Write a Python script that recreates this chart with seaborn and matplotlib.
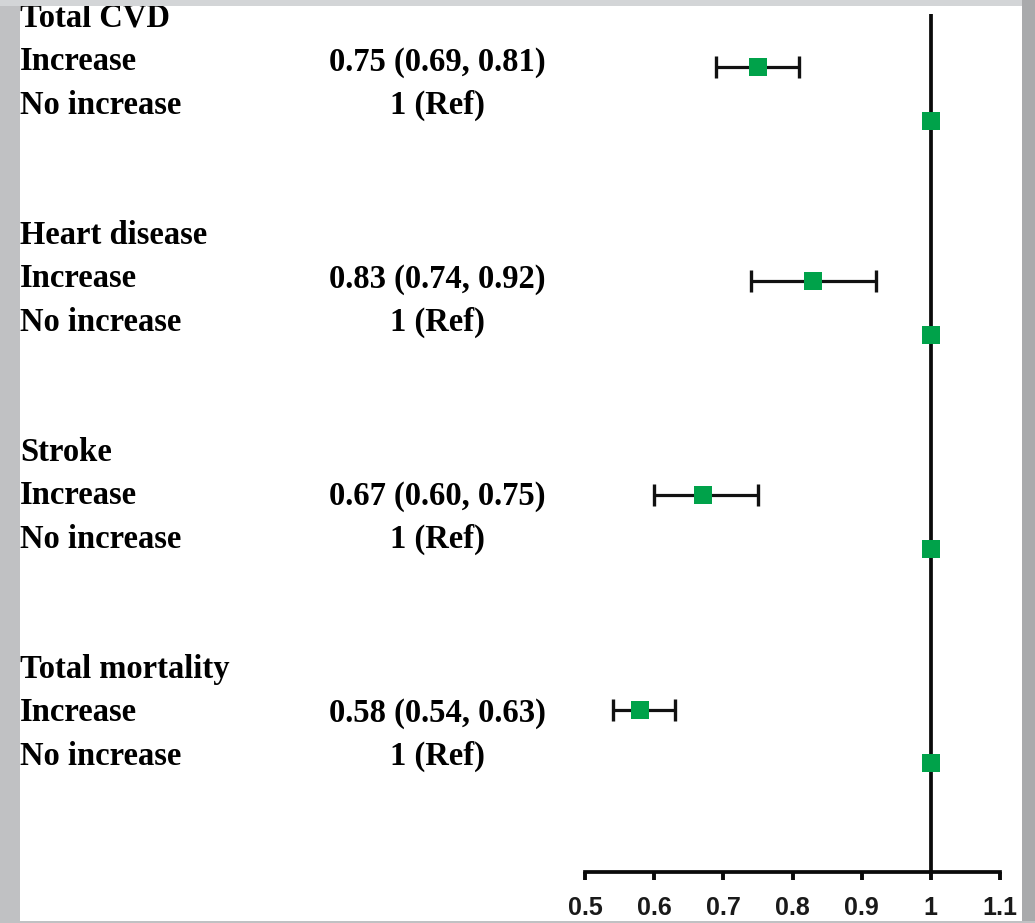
import matplotlib
matplotlib.use("Agg")
import matplotlib.pyplot as plt
import seaborn as sns
import pandas as pd
import numpy as np
from matplotlib.patches import Rectangle

# ---------------- data ----------------
groups = ["Total CVD", "Heart disease", "Stroke", "Total mortality"]
hr_increase = [0.75, 0.83, 0.67, 0.58]
ci_low = [0.69, 0.74, 0.60, 0.54]
ci_high = [0.81, 0.92, 0.75, 0.63]
ref_value = 1.0
row_labels = ["Increase", "No increase"]
ref_label = "1 (Ref)"
xticks = [0.5, 0.6, 0.7, 0.8, 0.9, 1.0, 1.1]
xtick_labels = ["0.5", "0.6", "0.7", "0.8", "0.9", "1", "1.1"]

# ---------------- layout ----------------
W, H = 1035, 923
sns.set_theme(style="white")
plt.rcParams["font.family"] = ["Liberation Serif", "DejaVu Serif"]

fig = plt.figure(figsize=(W / 100, H / 100), dpi=100)
fig.patch.set_facecolor("#d3d5d7")

# white panel
fig.patches.append(Rectangle((20 / W, 2 / H), 1002 / W, (H - 8) / H,
                             transform=fig.transFigure, facecolor="white",
                             edgecolor="none", zorder=-5))

ax_left_px, ax_right_px = 20, 1022
ax_top_px, ax_bot_px = 14, 872
x05_px, x11_px = 585, 1000
rect = [ax_left_px / W, 1 - ax_bot_px / H,
        (ax_right_px - ax_left_px) / W, (ax_bot_px - ax_top_px) / H]
ax = fig.add_axes(rect)
ax.set_facecolor("none")

scale = (1.1 - 0.5) / (x11_px - x05_px)
ax.set_xlim(0.5 - (x05_px - ax_left_px) * scale, 1.1 + (ax_right_px - x11_px) * scale)

# marker rows
mstep = 53.55
m0 = 67
ax.set_ylim((ax_bot_px - m0) / mstep, (ax_top_px - m0) / mstep)

rows = []
for g, (h, lo, hi) in enumerate(zip(hr_increase, ci_low, ci_high)):
    rows.append(dict(group=groups[g], kind="Increase", hr=h, lo=lo, hi=hi, y=4 * g))
    rows.append(dict(group=groups[g], kind="No increase", hr=ref_value, lo=np.nan,
                     hi=np.nan, y=4 * g + 1))
df = pd.DataFrame(rows)

inc = df[df.kind == "Increase"]
ax.axvline(ref_value, color="#0a0a0a", lw=2.7, zorder=2)
ax.errorbar(inc.hr, inc.y, xerr=[inc.hr - inc.lo, inc.hi - inc.hr], fmt="none",
            ecolor="#111111", elinewidth=2.3, capsize=8, capthick=2.4, zorder=3)
sns.scatterplot(data=df, x="hr", y="y", marker="s", s=160, color="#00a24a",
                edgecolor="#00a24a", linewidth=0, ax=ax, zorder=4, legend=False)

for s in ["top", "right", "left"]:
    ax.spines[s].set_visible(False)
ax.spines["bottom"].set_bounds(0.5, 1.1)
ax.spines["bottom"].set_linewidth(2.7)
ax.spines["bottom"].set_color("#0a0a0a")
ax.set_yticks([])
ax.set_xticks(xticks)
ax.set_xticklabels(xtick_labels, fontsize=18, fontweight="bold",
                   family=["Liberation Sans", "DejaVu Sans"], color="#1a1a1a")
ax.tick_params(axis="x", direction="out", length=6, width=2.8, color="#0a0a0a",
               pad=11, bottom=True)
ax.set_xlabel("")
ax.set_ylabel("")

# text rows (separate overlay axes)
tstep = 43.4
t0 = 27
axt = fig.add_axes(rect)
axt.set_axis_off()
axt.set_xlim(0, 1)
axt.set_ylim((ax_bot_px - t0) / tstep, (ax_top_px - t0) / tstep)
col_x = 437
fs = 23.5
tc = "#000000"
for g, name in enumerate(groups):
    k = 5 * g
    axt.text(0, k, name, fontsize=fs, fontweight="bold", va="baseline", ha="left",
             color=tc, clip_on=False)
    axt.text(0, k + 1, row_labels[0], fontsize=fs, fontweight="bold", va="baseline",
             ha="left", color=tc, clip_on=False)
    axt.text(0, k + 2, row_labels[1], fontsize=fs, fontweight="bold", va="baseline",
             ha="left", color=tc, clip_on=False)
    est = f"{hr_increase[g]:.2f} ({ci_low[g]:.2f}, {ci_high[g]:.2f})"
    xc = (col_x - ax_left_px) / (ax_right_px - ax_left_px)
    axt.text(xc, k + 1, est, fontsize=fs, fontweight="bold", va="baseline",
             ha="center", color=tc, clip_on=False)
    axt.text(xc, k + 2, ref_label, fontsize=fs, fontweight="bold", va="baseline",
             ha="center", color=tc, clip_on=False)

# gray border strips on top
for (x, y, w, h, c) in [(0, 0, 20, H, "#c0c1c3"), (0, 0, W, 6, "#d3d5d7"),
                        (1022, 0, W - 1022, H, "#a9aaac"), (0, H - 2, W, 2, "#c0c1c3")]:
    fig.patches.append(Rectangle((x / W, 1 - (y + h) / H), w / W, h / H,
                                 transform=fig.transFigure, facecolor=c,
                                 edgecolor="none", zorder=10))

fig.savefig("out.png", dpi=100, facecolor=fig.get_facecolor())
